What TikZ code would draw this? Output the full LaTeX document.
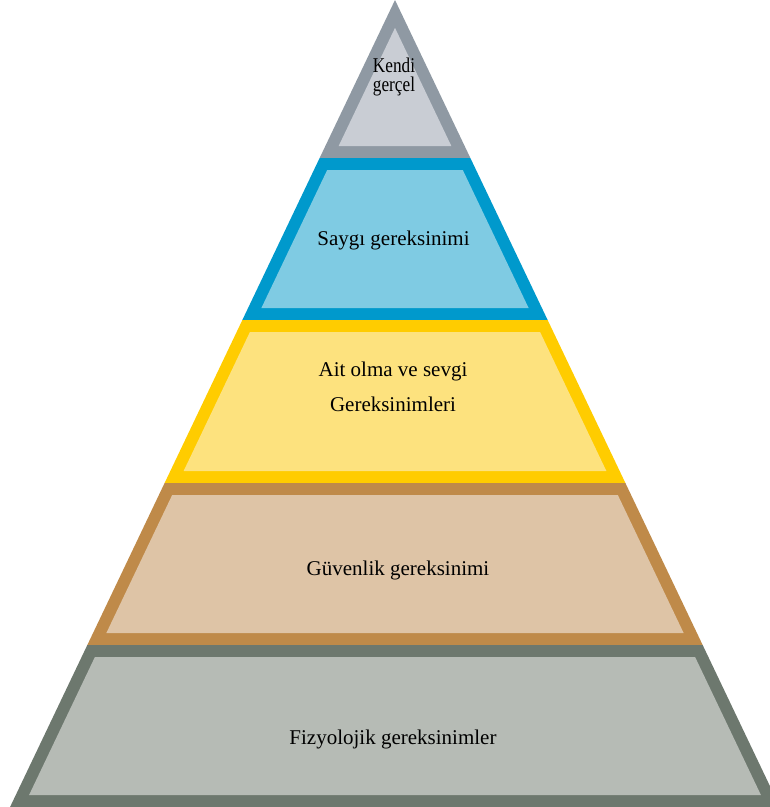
\documentclass[tikz,border=0pt]{standalone}
\usepackage{fontspec}
\setmainfont{Liberation Serif}
\newfontfamily\narrowserif[FakeStretch=0.82]{Liberation Serif}
\usepackage{tikz}

\definecolor{topedge}{HTML}{8F99A3}
\definecolor{topfill}{HTML}{C9CDD4}
\definecolor{esteemedge}{HTML}{0099CC}
\definecolor{esteemfill}{HTML}{7FCBE3}
\definecolor{loveedge}{HTML}{FFCC00}
\definecolor{lovefill}{HTML}{FDE27E}
\definecolor{safetyedge}{HTML}{BF8A49}
\definecolor{safetyfill}{HTML}{DEC4A6}
\definecolor{basicedge}{HTML}{6D786E}
\definecolor{basicfill}{HTML}{B6BBB5}

\tikzset{
  level text/.style={font=\fontsize{21}{25}\selectfont,align=center,
    inner sep=0pt,anchor=base,text=black},
  peak text/.style={level text,font=\narrowserif\fontsize{21}{19}\selectfont}
}

% apex position, side slope (dx per dy) and border band width
\def\apexx{395}
\def\slope{0.477}
\def\band{12}
\pgfmathsetmacro{\bandx}{\band*sqrt(1+\slope*\slope)}

% one band of the pyramid: #1 top y, #2 bottom y, #3 border, #4 fill
\newcommand{\pyramidlevel}[4]{%
  \pgfmathsetmacro{\outtop}{\slope*#1}%
  \pgfmathsetmacro{\outbot}{\slope*#2}%
  \pgfmathsetmacro{\intopy}{max(#1+\band,\bandx/\slope)}%
  \pgfmathsetmacro{\intop}{max(\slope*\intopy-\bandx,0)}%
  \pgfmathsetmacro{\inboty}{#2-\band}%
  \pgfmathsetmacro{\inbot}{\slope*\inboty-\bandx}%
  \fill[#3] (\apexx-\outtop,#1) -- (\apexx+\outtop,#1)
    -- (\apexx+\outbot,#2) -- (\apexx-\outbot,#2) -- cycle;
  \fill[#4] (\apexx-\intop,\intopy) -- (\apexx+\intop,\intopy)
    -- (\apexx+\inbot,\inboty) -- (\apexx-\inbot,\inboty) -- cycle;
}

\begin{document}
\begin{tikzpicture}[x=1pt,y=-1pt]
  \useasboundingbox (0,0) rectangle (770,807);
  \clip (0,0) rectangle (770,807);

  \pyramidlevel{0}{158}{topedge}{topfill}
  \pyramidlevel{158}{320}{esteemedge}{esteemfill}
  \pyramidlevel{320}{483}{loveedge}{lovefill}
  \pyramidlevel{483}{645}{safetyedge}{safetyfill}
  \pyramidlevel{645}{807}{basicedge}{basicfill}

  % two-line labels sit on the baseline of their last line
  \node[peak text] (selfact) at (394,91.7) {Kendi\\gerçel};
  \node[level text] (esteem) at (393.5,245) {Saygı gereksinimi};
  \node[level text,font=\fontsize{21}{35}\selectfont] (love) at (393,411.7)
    {Ait olma ve sevgi\\Gereksinimleri};
  \node[level text] (safety) at (398,575.7) {Güvenlik gereksinimi};
  \node[level text] (basic) at (393,744) {Fizyolojik gereksinimler};
\end{tikzpicture}
\end{document}
